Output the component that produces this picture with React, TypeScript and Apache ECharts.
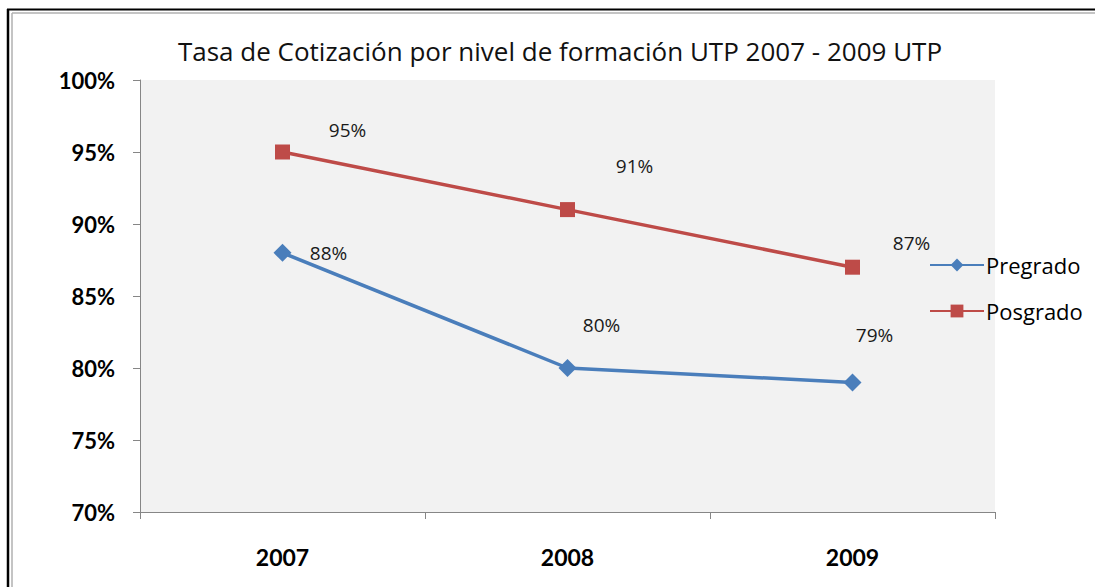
import React, { useEffect, useRef } from "react";
import * as echarts from "echarts";

const categories = ["2007", "2008", "2009"];
const pregrado = [88, 80, 79];
const posgrado = [95, 91, 87];
const pregradoLabelOffsets = [[46, 0], [34, -43], [22, -47]];
const posgradoLabelOffsets = [[65, -22], [67, -44], [59, -24]];
const titleText = "Tasa de Cotización por nivel de formación UTP 2007 - 2009 UTP";

const FONT = "Lato, 'Open Sans', sans-serif";
const FONT_WIDE = "'Open Sans', Lato, sans-serif";

export default function App() {
  const ref = useRef<HTMLDivElement>(null);
  useEffect(() => {
    document.body.style.margin = "0";
    const chart = echarts.init(ref.current!, null, { renderer: "svg" });
    const mkData = (vals: number[], offs: number[][]) =>
      vals.map((v, i) => ({
        value: v,
        label: { offset: offs[i] },
      }));
    const labelCommon = {
      show: true,
      position: "inside",
      align: "center",
      verticalAlign: "middle",
      formatter: (p: any) => p.value + "%",
      color: "#1a1a1a",
      fontSize: 19,
      fontFamily: FONT_WIDE,
    };
    chart.setOption({
      animation: false,
      backgroundColor: "#ffffff",
      textStyle: { fontFamily: FONT },
      title: {
        text: titleText,
        left: 555,
        textAlign: "center",
        top: 33,
        textStyle: { fontSize: 26, fontWeight: 500, color: "#111", fontFamily: FONT_WIDE },
      },
      legend: {
        orient: "vertical",
        left: 924,
        top: 249,
        itemWidth: 54,
        itemHeight: 16,
        itemGap: 24,
        textStyle: { fontSize: 22, color: "#000", fontFamily: FONT_WIDE, padding: [0, 0, 0, -3] },
        data: ["Pregrado", "Posgrado"],
      },
      grid: {
        left: 140,
        right: 100,
        top: 80,
        bottom: 75,
        show: true,
        backgroundColor: "#f2f2f2",
        borderWidth: 0,
      },
      xAxis: {
        type: "category",
        data: categories,
        boundaryGap: true,
        axisLine: { lineStyle: { color: "#868686", width: 1 } },
        axisTick: { show: true, length: 7, lineStyle: { color: "#868686" } },
        axisLabel: { fontSize: 23, fontWeight: "bold", color: "#000", margin: 33, fontFamily: FONT },
        splitLine: { show: false },
      },
      yAxis: {
        type: "value",
        min: 70,
        max: 100,
        interval: 5,
        axisLine: { show: true, lineStyle: { color: "#868686", width: 1 } },
        axisTick: { show: true, length: 7, lineStyle: { color: "#868686" } },
        axisLabel: {
          fontSize: 22,
          fontWeight: "bold",
          color: "#000",
          margin: 25,
          formatter: (v: number) => v + "%",
          fontFamily: FONT,
        },
        splitLine: { show: false },
      },
      series: [
        {
          name: "Pregrado",
          type: "line",
          data: mkData(pregrado, pregradoLabelOffsets),
          symbol: "diamond",
          symbolSize: 18,
          itemStyle: { color: "#4a7ebb" },
          lineStyle: { color: "#4a7ebb", width: 3.5 },
          label: labelCommon,
        },
        {
          name: "Posgrado",
          type: "line",
          data: mkData(posgrado, posgradoLabelOffsets),
          symbol: "rect",
          symbolSize: 15,
          itemStyle: { color: "#be4b48" },
          lineStyle: { color: "#be4b48", width: 3.5 },
          label: labelCommon,
        },
      ],
      graphic: [
        { type: "line", shape: { x1: 8, y1: 9, x2: 8, y2: 587 }, style: { stroke: "#000", lineWidth: 2.5 } },
        { type: "line", shape: { x1: 7, y1: 9.5, x2: 1095, y2: 9.5 }, style: { stroke: "#000", lineWidth: 2 } },
        { type: "line", shape: { x1: 12, y1: 13, x2: 12, y2: 587 }, style: { stroke: "#b0b0b0", lineWidth: 1.5 } },
        { type: "line", shape: { x1: 12, y1: 13, x2: 1095, y2: 13 }, style: { stroke: "#b0b0b0", lineWidth: 1.5 } },
      ],
    });
    return () => chart.dispose();
  }, []);
  return <div ref={ref} style={{ width: 1095, height: 587 }} />;
}
